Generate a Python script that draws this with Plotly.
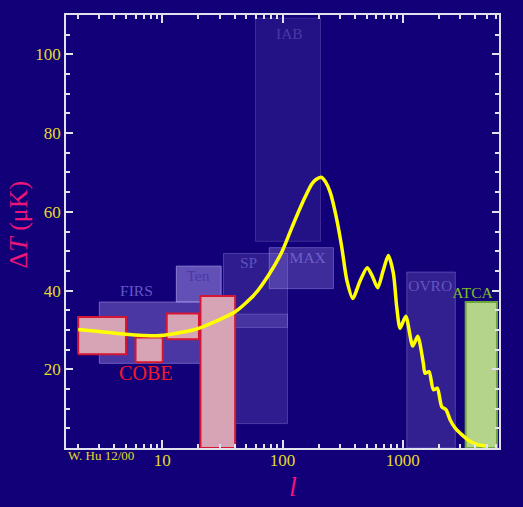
import plotly.graph_objects as go

# ---------------- data ----------------
# theoretical CMB anisotropy curve (multipole l, Delta T in microK)
curve_l = [2, 3, 5, 7, 9, 12.8, 18.8, 27.5, 40.4, 59.3, 76.5, 98.8, 120, 145, 176, 190, 209.6,
           228, 249, 282, 311, 343, 384, 442, 507, 561, 619, 686, 759, 836, 891, 950,
           1059, 1210, 1332, 1482, 1531, 1653, 1798, 1936,
           2108, 2292, 2474, 2721, 3091, 3622, 4248, 4986]
curve_dT = [30.1, 29.6, 28.9, 28.6, 28.5, 29.1, 30.1, 32.1, 34.6, 39.2, 43.9, 49.8, 56.1, 62.0, 67.1, 68.2, 68.8,
            67.6, 65.0, 58.2, 51.0, 42.6, 38.0, 42.5, 45.8, 43.5, 40.7, 45.0, 48.9, 44.3, 35.8, 30.4,
            33.5, 25.9, 28.4, 21.5, 19.0, 19.4, 14.8, 15.2,
            10.5, 9.7, 7.2, 5.1, 3.4, 1.7, 0.8, 0.5]

# experiment windows: name, l_min, l_max, dT_min, dT_max
exp_names = ["IAB", "FIRS", "Ten", "SP", "SP", "MAX", "OVRO"]
exp_lmin = [59.6, 3.0, 13.1, 32.3, 32.3, 77.6, 1080]
exp_lmax = [207, 30.3, 30.9, 110, 110, 265, 2735]
exp_dTmin = [52.5, 21.5, 37.1, 30.6, 6.2, 40.5, 0]
exp_dTmax = [109.2, 37.1, 46.2, 49.4, 34.0, 50.9, 44.7]
exp_alpha = [0.12, 0.38, 0.55, 0.2, 0.2, 0.3, 0.22]

# COBE-style (red framed) windows
cobe_lmin = [2.0, 6.0, 10.9, 20.8]
cobe_lmax = [5.0, 10.1, 20.2, 40.4]
cobe_dTmin = [23.8, 21.8, 27.6, 0]
cobe_dTmax = [33.3, 28.1, 34.2, 38.6]

# ATCA window
atca_l = [3335, 6070]
atca_dT = [0, 37.1]

# labels: text, l, dT
label_text = ["IAB", "FIRS", "Ten", "SP", "MAX", "OVRO"]
label_l = [114, 6.1, 19.8, 52.2, 162, 1690]
label_dT = [105, 39.6, 43.3, 46.7, 48.1, 40.9]
label_color = ["rgb(72,58,165)", "rgb(100,88,200)", "rgb(72,58,168)", "rgb(95,80,190)",
               "rgb(110,95,200)", "rgb(100,85,190)"]

x_tickvals = [10, 100, 1000]
x_ticktext = ["10", "100", "1000"]
y_tickvals = [20, 40, 60, 80, 100]

# ---------------- figure ----------------
BG = "rgb(18,0,120)"
FONT = "Liberation Serif, Times New Roman, serif"
YELLOW = "rgb(228,218,40)"
PINK = "rgb(236,22,122)"

fig = go.Figure()


def box(l0, l1, d0, d1, fill, line, lw):
    fig.add_trace(go.Scatter(
        x=[l0, l1, l1, l0, l0], y=[d0, d0, d1, d1, d0],
        mode="lines", fill="toself", fillcolor=fill,
        line=dict(color=line, width=lw), hoverinfo="skip", showlegend=False))


for i in range(len(exp_names)):
    a = exp_alpha[i]
    box(exp_lmin[i], exp_lmax[i], exp_dTmin[i], exp_dTmax[i],
        f"rgba(165,145,235,{a})", f"rgba(175,160,240,{min(a + 0.12, 1)})", 1)

for i in range(len(cobe_lmin)):
    box(cobe_lmin[i], cobe_lmax[i], cobe_dTmin[i], cobe_dTmax[i],
        "rgb(214,164,180)", "rgb(212,22,52)", 2)

box(atca_l[0], atca_l[1], atca_dT[0], atca_dT[1], "rgb(180,212,138)", "rgb(112,165,60)", 2)

fig.add_trace(go.Scatter(
    x=label_l, y=label_dT, mode="text", text=label_text,
    textfont=dict(family=FONT, size=15.5, color=label_color),
    hoverinfo="skip", showlegend=False))

fig.add_trace(go.Scatter(
    x=[3800], y=[39.2], mode="text", text=["ATCA"],
    textfont=dict(family=FONT, size=15.5, color="rgb(128,190,40)"),
    hoverinfo="skip", showlegend=False))

fig.add_trace(go.Scatter(
    x=[7.3], y=[18.6], mode="text", text=["COBE"],
    textfont=dict(family=FONT, size=20, color="rgb(245,25,40)"),
    hoverinfo="skip", showlegend=False))

fig.add_trace(go.Scatter(
    x=curve_l, y=curve_dT, mode="lines",
    line=dict(color="rgb(255,255,0)", width=3.5, shape="spline", smoothing=0.7),
    hoverinfo="skip", showlegend=False))

x_minor = [m * 10 ** e for e in range(0, 4) for m in range(2, 10) if m * 10 ** e <= 6300]
y_minor = list(range(5, 110, 5))

axis_common = dict(
    showline=True, linecolor="rgb(225,225,238)", linewidth=1.5,
    mirror="allticks", ticks="inside", tickcolor="rgb(225,225,238)", tickwidth=1.5,
    showgrid=False, zeroline=False,
    tickfont=dict(family=FONT, size=17, color=YELLOW),
)

fig.update_layout(
    width=523, height=507,
    margin=dict(l=66, r=24, t=15, b=59),
    paper_bgcolor=BG, plot_bgcolor=BG,
    font=dict(family=FONT),
    xaxis=dict(type="log", range=[0.2, 3.8], tickvals=x_tickvals, ticktext=x_ticktext,
               ticklen=8, ticklabelstandoff=-4,
               minor=dict(tickvals=x_minor, ticks="inside", ticklen=4,
                          tickcolor="rgb(225,225,238)", tickwidth=1.5, showgrid=False),
               **axis_common),
    yaxis=dict(range=[0, 110], tickvals=y_tickvals, ticklen=7,
               minor=dict(tickvals=y_minor, ticks="inside", ticklen=4,
                          tickcolor="rgb(225,225,238)", tickwidth=1.5, showgrid=False),
               **axis_common),
    annotations=[
        dict(text="Δ<i>T</i> (μK)", xref="paper", yref="paper", x=-0.11, y=0.517,
             textangle=-90, showarrow=False, xanchor="center", yanchor="middle",
             font=dict(family=FONT, size=26, color=PINK)),
        dict(text="<i>l</i>", xref="paper", yref="paper", x=0.524, y=-0.09,
             showarrow=False, xanchor="center", yanchor="middle",
             font=dict(family=FONT, size=28, color=PINK)),
        dict(text="W. Hu 12/00", xref="paper", yref="paper", x=0.0, y=-0.018,
             showarrow=False, xanchor="left", yanchor="middle",
             font=dict(family=FONT, size=13, color=YELLOW)),
    ],
)

fig.write_html(
    "out.html",
    config={"displayModeBar": False},
    post_script="document.body.style.margin='0';document.body.style.background='rgb(18,0,120)';",
)
